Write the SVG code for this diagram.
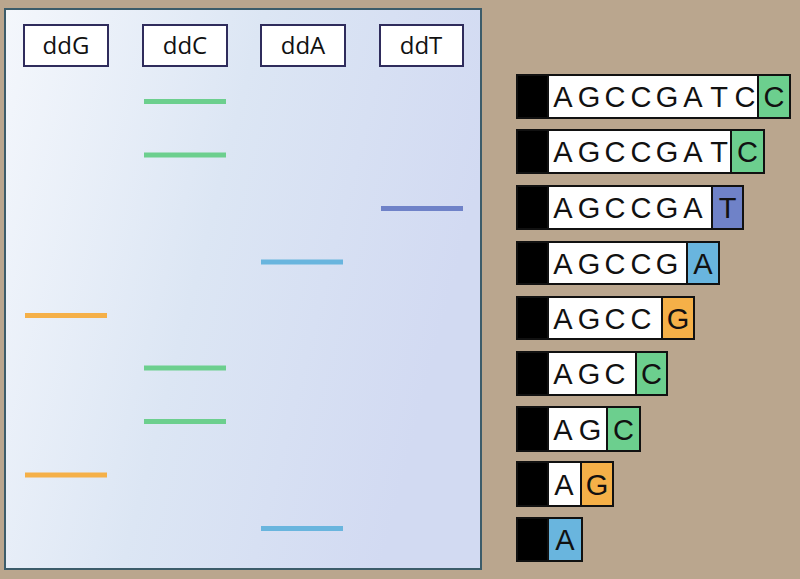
<svg xmlns="http://www.w3.org/2000/svg" width="800" height="579" viewBox="0 0 800 579">
<defs>
<linearGradient id="gel" x1="0" y1="0" x2="1" y2="0.3">
<stop offset="0" stop-color="#f4f7fc"/>
<stop offset="0.5" stop-color="#dce6f4"/>
<stop offset="1" stop-color="#d2daf2"/>
</linearGradient>
<style>
.lbl rect{fill:#ffffff;stroke:#2f2c5c;stroke-width:2}
.lbl text{font-family:"Open Sans","Liberation Sans",sans-serif;font-size:24px;fill:#111;text-anchor:middle}
.band{stroke-width:5;stroke-linecap:butt}
.g{stroke:#f5b048}.c{stroke:#6ccf8e}.a{stroke:#69b5de}.t{stroke:#6f82c8}
.seq rect{stroke:#111;stroke-width:2}
.seq text{font-family:"Liberation Sans","DejaVu Sans",sans-serif;font-size:29px;fill:#111;text-anchor:middle}
.blk{fill:#000}.wh{fill:#fff}
.fg{fill:#f5b048}.fc{fill:#6ccf8e}.fa{fill:#69b5de}.ft{fill:#6f82c8}
</style>
</defs>
<rect width="800" height="579" fill="#baa68e"/>
<g id="gel-panel">
<rect x="5" y="9" width="476" height="560" fill="url(#gel)" stroke="#3c5c6a" stroke-width="2"/>
</g>
<g id="lane-labels" class="lbl">
<g id="label-ddG"><rect x="24" y="25" width="84" height="41"/><text x="66" y="54">ddG</text></g>
<g id="label-ddC"><rect x="143" y="25" width="84" height="41"/><text x="185" y="54">ddC</text></g>
<g id="label-ddA"><rect x="261" y="25" width="84" height="41"/><text x="303" y="54">ddA</text></g>
<g id="label-ddT"><rect x="380" y="25" width="83" height="41"/><text x="421" y="54">ddT</text></g>
</g>
<g id="bands" class="band">
<line class="band c" x1="144" y1="101.5" x2="226" y2="101.5"/>
<line class="band c" x1="144" y1="155" x2="226" y2="155"/>
<line class="band t" x1="381" y1="208.5" x2="463" y2="208.5"/>
<line class="band a" x1="261" y1="262" x2="343" y2="262"/>
<line class="band g" x1="25" y1="315.5" x2="107" y2="315.5"/>
<line class="band c" x1="144" y1="368" x2="226" y2="368"/>
<line class="band c" x1="144" y1="421.5" x2="226" y2="421.5"/>
<line class="band g" x1="25" y1="475" x2="107" y2="475"/>
<line class="band a" x1="261" y1="528.5" x2="343" y2="528.5"/>
</g>
<g id="sequences" class="seq">
<g id="seq1">
<rect class="blk" x="517" y="75" width="31" height="43"/>
<rect class="wh" x="548" y="75" width="210" height="43"/>
<rect class="fc" x="758" y="75" width="32" height="43"/>
<text x="563 589 615 641 667 693 719 745" y="107">AGCCGATC</text>
<text x="774" y="107">C</text>
</g>
<g id="seq2">
<rect class="blk" x="517" y="130" width="31" height="43"/>
<rect class="wh" x="548" y="130" width="183" height="43"/>
<rect class="fc" x="731" y="130" width="33" height="43"/>
<text x="563 589 615 641 667 693 719" y="162">AGCCGAT</text>
<text x="747.5" y="162">C</text>
</g>
<g id="seq3">
<rect class="blk" x="517" y="186" width="31" height="43"/>
<rect class="wh" x="548" y="186" width="164" height="43"/>
<rect class="ft" x="712" y="186" width="31" height="43"/>
<text x="563 589 615 641 667 693" y="218">AGCCGA</text>
<text x="727.5" y="218">T</text>
</g>
<g id="seq4">
<rect class="blk" x="517" y="242" width="31" height="42"/>
<rect class="wh" x="548" y="242" width="139" height="42"/>
<rect class="fa" x="687" y="242" width="32" height="42"/>
<text x="563 589 615 641 667" y="274">AGCCG</text>
<text x="703" y="274">A</text>
</g>
<g id="seq5">
<rect class="blk" x="517" y="297" width="31" height="42"/>
<rect class="wh" x="548" y="297" width="114" height="42"/>
<rect class="fg" x="662" y="297" width="32" height="42"/>
<text x="563 589 615 641" y="329">AGCC</text>
<text x="678" y="329">G</text>
</g>
<g id="seq6">
<rect class="blk" x="517" y="352" width="31" height="43"/>
<rect class="wh" x="548" y="352" width="88" height="43"/>
<rect class="fc" x="636" y="352" width="31" height="43"/>
<text x="563 589 615" y="384">AGC</text>
<text x="651.5" y="384">C</text>
</g>
<g id="seq7">
<rect class="blk" x="517" y="407" width="31" height="44"/>
<rect class="wh" x="548" y="407" width="59" height="44"/>
<rect class="fc" x="607" y="407" width="33" height="44"/>
<text x="563 590" y="440">AG</text>
<text x="623.5" y="440">C</text>
</g>
<g id="seq8">
<rect class="blk" x="517" y="462" width="31" height="44"/>
<rect class="wh" x="548" y="462" width="33" height="44"/>
<rect class="fg" x="581" y="462" width="32" height="44"/>
<text x="564" y="495">A</text>
<text x="597" y="495">G</text>
</g>
<g id="seq9">
<rect class="blk" x="517" y="518" width="31" height="43"/>
<rect class="fa" x="548" y="518" width="34" height="43"/>
<text x="565" y="550">A</text>
</g>
</g>
</svg>
